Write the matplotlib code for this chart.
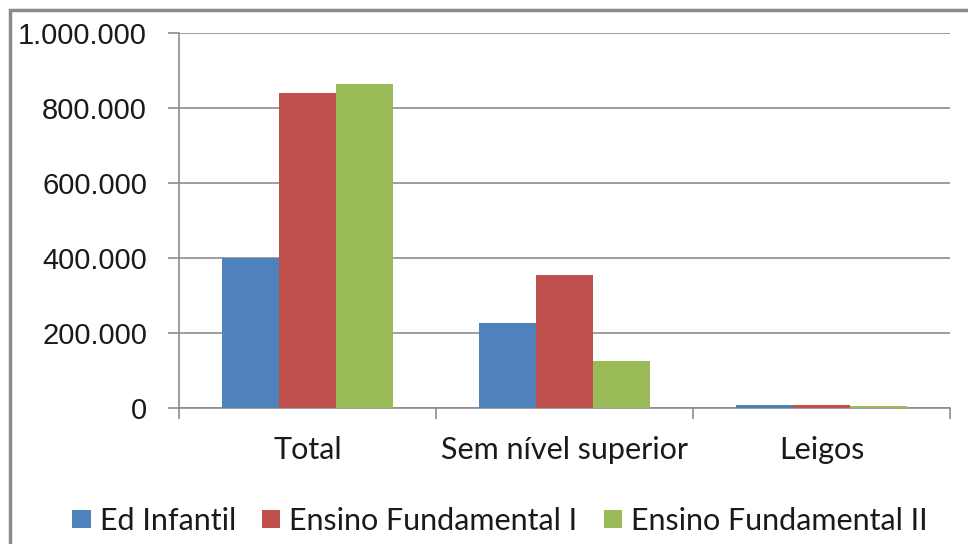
import matplotlib
matplotlib.use("Agg")
import matplotlib.pyplot as plt
from matplotlib.patches import Rectangle
from matplotlib.ticker import FuncFormatter

categories = ["Total", "Sem nível superior", "Leigos"]
series_names = ["Ed Infantil", "Ensino Fundamental I", "Ensino Fundamental II"]
ed_infantil = [401000, 228000, 9000]
fundamental_1 = [839000, 355000, 9000]
fundamental_2 = [865000, 126000, 6000]
colors = ["#4f81bd", "#c0504d", "#9bbb59"]

W, H = 968, 544
fig = plt.figure(figsize=(W / 100, H / 100), dpi=100)
ax = fig.add_axes([179 / W, 1 - 408 / H, (950 - 179) / W, (408 - 33) / H])

width = 1 / 4.5
x = range(len(categories))
for k, (vals, name) in enumerate(zip([ed_infantil, fundamental_1, fundamental_2], series_names)):
    ax.bar([i + (k - 1) * width for i in x], vals, width, color=colors[k], label=name, zorder=3)

ax.set_xlim(-0.5, 2.5)
ax.set_ylim(0, 1000000)
ax.set_yticks(range(0, 1000001, 200000))
ax.yaxis.set_major_formatter(FuncFormatter(lambda v, p: f"{int(v):,}".replace(",", ".")))
ax.yaxis.grid(True, color="#8c8c8c", linewidth=1.2, zorder=0)

ax.set_xticks(list(x))
ax.set_xticklabels(categories, fontfamily="Lato", fontsize=22, color="#1a1a1a")
ax.set_xticks([-0.5, 0.5, 1.5, 2.5], minor=True)
ax.tick_params(axis="x", which="major", length=0, pad=20)
ax.tick_params(axis="x", which="minor", length=8, color="#8c8c8c", width=1.2)
ax.tick_params(axis="y", length=8, color="#8c8c8c", width=1.2, pad=15)
for lab in ax.get_yticklabels():
    lab.set_fontfamily("Liberation Sans")
    lab.set_fontsize(21)
    lab.set_color("#1a1a1a")

for side in ["top", "right"]:
    ax.spines[side].set_visible(False)
for side in ["left", "bottom"]:
    ax.spines[side].set_color("#8c8c8c")
    ax.spines[side].set_linewidth(1.2)

leg = fig.legend(loc="center", bbox_to_anchor=(500 / W, 1 - 521 / H), ncol=3, frameon=False,
                 prop={"family": "Lato", "size": 22}, handlelength=0.6, handleheight=0.55,
                 handletextpad=0.3, columnspacing=0.85)
for t in leg.get_texts():
    t.set_color("#1a1a1a")

fig.patches.append(Rectangle((10 / W, -0.1), 1.2, 1.1 - 10 / H, transform=fig.transFigure,
                             fill=False, edgecolor="#8a8a8a", linewidth=2.5))

fig.savefig("out.png", dpi=100)
